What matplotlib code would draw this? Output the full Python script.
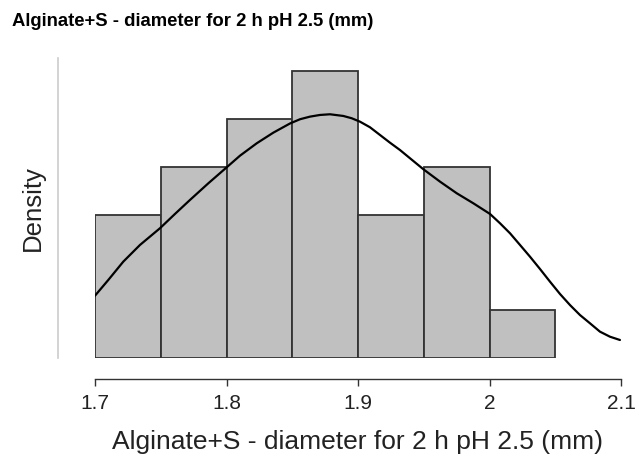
import numpy as np
import matplotlib
matplotlib.use('Agg')
import matplotlib.pyplot as plt

plt.rcParams['font.family'] = ['Liberation Sans', 'DejaVu Sans']

# histogram: bin edges and counts
krawedzie = [1.70, 1.75, 1.80, 1.85, 1.90, 1.95, 2.00, 2.05]
liczebnosci = [3, 4, 5, 6, 3, 4, 1]

# density curve
krzywa_x = [1.7000, 1.7101, 1.7215, 1.7342, 1.7494, 1.7608, 1.7722, 1.7862,
            1.8002, 1.8103, 1.8230, 1.8356, 1.8483, 1.8559, 1.8635, 1.8711,
            1.8787, 1.8888, 1.8952, 1.9015, 1.9091, 1.9167, 1.9243, 1.9319,
            1.9497, 1.9624, 1.9751, 1.9877, 2.0004, 2.0080, 2.0156, 2.0232,
            2.0308, 2.0384, 2.0460, 2.0536, 2.0612, 2.0688, 2.0764, 2.0840,
            2.0916, 2.0992]
krzywa_y = [1.003, 1.256, 1.551, 1.820, 2.089, 2.319, 2.544, 2.813,
            3.071, 3.258, 3.457, 3.628, 3.776, 3.844, 3.886, 3.913,
            3.924, 3.897, 3.860, 3.805, 3.715, 3.591, 3.467, 3.349,
            3.039, 2.839, 2.652, 2.491, 2.319, 2.169, 2.008, 1.820,
            1.631, 1.433, 1.229, 1.031, 0.853, 0.692, 0.559, 0.424,
            0.343, 0.290]

etykiety_x = ['1.7', '1.8', '1.9', '2', '2.1']
pozycje_x = [1.7, 1.8, 1.9, 2.0, 2.1]

tytul = 'Alginate+S - diameter for 2 h pH 2.5 (mm)'

szer = krawedzie[1] - krawedzie[0]
n = np.array(liczebnosci, dtype=float)
gestosc = n / (n.sum() * szer)

fig = plt.figure(figsize=(6.39, 4.61), dpi=100)
ax = fig.add_axes([95 / 639, 1 - 358 / 461, (621 - 95) / 639, (358 - 58) / 461])

ax.bar(krawedzie[:-1], gestosc, width=szer, align='edge',
       color='#c0c0c0', edgecolor='#333333', linewidth=1.3, zorder=2)
ax.plot(krzywa_x, krzywa_y, color='black', linewidth=1.6, zorder=3,
        solid_capstyle='round', solid_joinstyle='round')

ax.set_xlim(1.7, 2.1)
ax.set_ylim(0, 4.83)

for s in ['top', 'right']:
    ax.spines[s].set_visible(False)
ax.spines['left'].set_position(('outward', 27))
ax.spines['left'].set_color('#cccccc')
ax.spines['left'].set_linewidth(1.2)
ax.spines['bottom'].set_position(('outward', 15))
ax.spines['bottom'].set_color('#333333')
ax.spines['bottom'].set_linewidth(1.0)
ax.spines['bottom'].set_bounds(1.7, 2.1)

ax.set_yticks([])
ax.set_xticks(pozycje_x)
ax.set_xticklabels(etykiety_x, fontsize=15, color='#222222')
ax.tick_params(axis='x', length=5, width=1.0, color='#333333', pad=6)

ax.set_xlabel(tytul, fontsize=19, color='#222222', labelpad=12)
ax.set_ylabel('Density', fontsize=18.5, color='#222222', labelpad=9)

fig.text(12 / 639, 1 - 21 / 461, tytul, fontsize=13.3, fontweight='bold',
         ha='left', va='center', color='black')

fig.savefig('out.png', dpi=100)
